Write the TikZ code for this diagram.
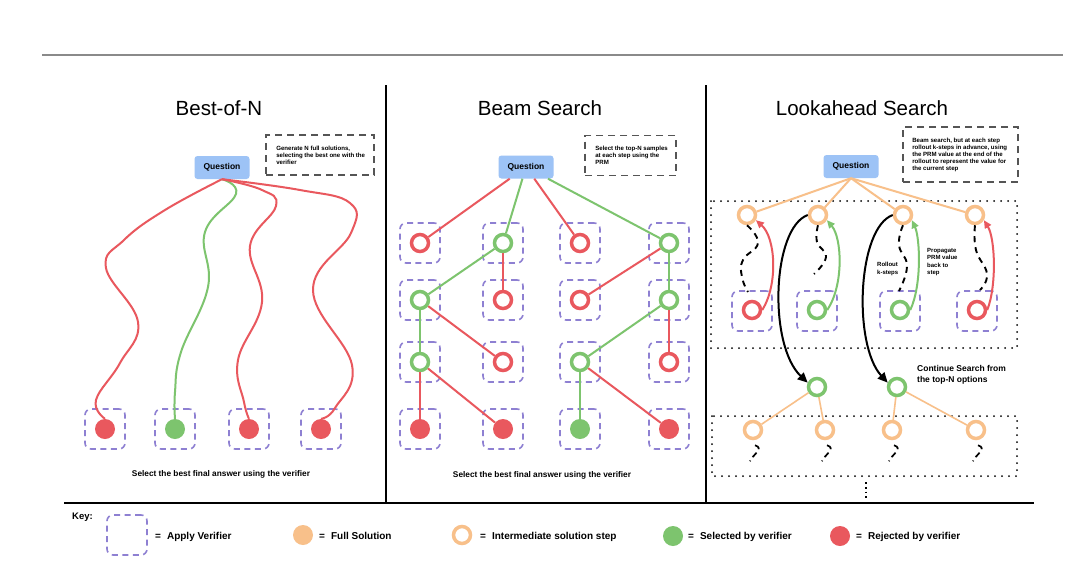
\documentclass[tikz,border=0pt]{standalone}
\usepackage{fontspec}
\setmainfont{Liberation Sans}
\usetikzlibrary{arrows.meta}
\definecolor{cred}{HTML}{E9585E}
\definecolor{cgreen}{HTML}{7DC46E}
\definecolor{corange}{HTML}{F8C08A}
\definecolor{cpurple}{HTML}{8E80D2}
\definecolor{cblue}{HTML}{9DC3F6}
\definecolor{cgray}{HTML}{555555}
\definecolor{lgray}{HTML}{8A8A8A}
\begin{document}
\begin{tikzpicture}[x=1pt,y=-1pt,
  question/.style={fill=cblue, rounded corners=3pt, minimum width=55pt, minimum height=23pt, inner sep=0pt, font=\fontsize{8.5}{10}\selectfont\bfseries},
  notebox/.style={draw=cgray, line width=1.8pt, dash pattern=on 7pt off 5pt, inner sep=0pt},
  notetext/.style={align=left, anchor=west, inner sep=0pt, font=\fontsize{6.1}{7}\selectfont\bfseries},
  title/.style={font=\fontsize{20.5}{24}\selectfont},
  caption/.style={font=\fontsize{8.3}{10}\selectfont\bfseries},
  vbox/.style={draw=cpurple, line width=1.6pt, dash pattern=on 6pt off 4.5pt, rounded corners=6pt, minimum size=40pt, inner sep=0pt},
  hol/.style={circle, draw=#1, line width=3.5pt, fill=white, minimum size=17pt, inner sep=0pt},
  ful/.style={circle, fill=#1, minimum size=20pt, inner sep=0pt},
  edge/.style={draw=#1, line width=2pt},
  oedge/.style={draw=corange, line width=2pt},
  rollout/.style={draw=black, line width=1.9pt, dash pattern=on 6pt off 5pt},
  prop/.style={draw=#1, line width=2pt, -{Triangle[length=8pt,width=7pt]}},
  jump/.style={draw=black, line width=2pt, -{Triangle[length=10pt,width=9pt]}},
  dotbox/.style={line width=2pt, dash pattern=on 0pt off 7pt, line cap=round},
  small/.style={align=left, anchor=north west, inner sep=0pt, font=\fontsize{6}{7.5}\selectfont\bfseries},
  legend/.style={anchor=base west, inner sep=0pt, font=\fontsize{10}{12}\selectfont\bfseries}
]
\useasboundingbox[fill=white] (0,0) rectangle (1080,566);

% frame lines
\draw[lgray, line width=2.5pt] (42,55) -- (1063,55);
\draw[black, line width=1.5pt] (386,85) -- (386,503);
\draw[black, line width=1.5pt] (706,85) -- (706,503);
\draw[black, line width=2.5pt] (64,503) -- (1034,503);

% ================= Best-of-N =================
\node[title] (t-bon) at (219,108) {Best-of-N};
\node[notebox, minimum width=108pt, minimum height=40pt] (n-bon) at (320,155) {};
\node[notetext] (n-bon-t) at ([xshift=11pt]n-bon.west) {Generate N full solutions,\\selecting the best one with the\\verifier};
\node[question] (qa) at (222,167.5) {Question};
\foreach \i/\x/\c in {1/105/cred, 2/175/cgreen, 3/249/cred, 4/321/cred}{
  \node[vbox] (va\i) at (\x,429) {};
  \node[ful=\c] (la\i) at (\x,429) {};
}
\draw[edge=cred] plot[smooth, tension=0.7] coordinates {(qa.south) (165,210) (124,240) (106,268) (138,322) (120,363) (96,400) (la1.north)};
\draw[edge=cgreen] plot[smooth, tension=0.7] coordinates {(qa.south) (236,194) (205,232) (208,287) (181,352) (175,392) (la2.north)};
\draw[edge=cred] plot[smooth, tension=0.7] coordinates {(qa.south) (262,190) (276,206) (250,246) (262,302) (238,360) (244,402) (la3.north)};
\draw[edge=cred] plot[smooth, tension=0.7] coordinates {(qa.south) (300,190) (350,203) (351,233) (313,290) (352,365) (335,408) (la4.north)};
\node[caption] (c-bon) at (221,474) {Select the best final answer using the verifier};

% ================= Beam Search =================
\node[title] (t-bs) at (540,108) {Beam Search};
\node[notebox, minimum width=91pt, minimum height=40pt] (n-bs) at (630.5,155.5) {};
\node[notetext] (n-bs-t) at ([xshift=11pt]n-bs.west) {Select the top-N samples\\at each step using the\\PRM};
\node[question] (qb) at (526,167) {Question};
\foreach \x [count=\j] in {420,503,580,669}{
  \foreach \y [count=\i] in {243,300,362,429}{
    \node[vbox] (vb\i\j) at (\x,\y) {};
  }
}
\foreach \j/\x/\c in {1/420/cred, 2/503/cgreen, 3/580/cred, 4/669/cgreen}{\node[hol=\c] (b1\j) at (\x,243) {};}
\foreach \j/\x/\c in {1/420/cgreen, 2/503/cred, 3/580/cred, 4/669/cgreen}{\node[hol=\c] (b2\j) at (\x,300) {};}
\foreach \j/\x/\c in {1/420/cgreen, 2/503/cred, 3/580/cgreen, 4/669/cred}{\node[hol=\c] (b3\j) at (\x,362) {};}
\foreach \j/\x/\c in {1/420/cred, 2/503/cred, 3/580/cgreen, 4/669/cred}{\node[ful=\c] (b4\j) at (\x,429) {};}
\foreach \a/\b/\c in {qb/b11/cred, qb/b12/cgreen, qb/b13/cred, qb/b14/cgreen,
  b12/b21/cgreen, b12/b22/cred, b14/b23/cred, b14/b24/cgreen,
  b21/b31/cgreen, b21/b32/cred, b24/b33/cgreen, b24/b34/cred,
  b31/b41/cred, b31/b42/cred, b33/b43/cgreen, b33/b44/cred}{
  \draw[edge=\c] (\a) -- (\b);
}
\node[caption] (c-bs) at (542,475) {Select the best final answer using the verifier};

% ================= Lookahead Search =================
\node[title] (t-la) at (862,108) {Lookahead Search};
\node[notebox, minimum width=115pt, minimum height=55pt] (n-la) at (960.5,154.5) {};
\node[notetext] (n-la-t) at ([xshift=10pt]n-la.west) {Beam search, but at each step\\rollout k-steps in advance, using\\the PRM value at the end of the\\rollout to represent the value for\\the current step};
\node[question] (qc) at (851,166.5) {Question};

\draw[dotbox] (711,201) rectangle (1017,348);
\draw[dotbox] (712,416) rectangle (1017,476);

\foreach \i/\x in {1/747, 2/818, 3/903, 4/975}{
  \node[hol=corange] (tl\i) at (\x,215) {};
  \draw[oedge] (qc.south) -- (tl\i);
}
\foreach \i/\x/\c in {1/752/cred, 2/817/cgreen, 3/900/cgreen, 4/977/cred}{
  \node[vbox] (vl\i) at (\x,311) {};
  \node[hol=\c] (bl\i) at (\x,310) {};
}
% rollouts
\coordinate (re1) at (748,292);
\coordinate (re2) at (814,274);
\coordinate (re3) at (899,291);
\coordinate (re4) at (980,290);
\draw[rollout] plot[smooth, tension=0.8] coordinates {(tl1.south) (758,243) (743,260) (742,277) (re1)};
\draw[rollout] plot[smooth, tension=0.8] coordinates {(tl2.south) (817,242) (826,257) (re2)};
\draw[rollout] plot[smooth, tension=0.8] coordinates {(tl3.south) (899,245) (907,266) (re3)};
\draw[rollout] plot[smooth, tension=0.8] coordinates {(tl4.south) (976,250) (987,274) (re4)};
% propagate
\draw[prop=cred] (bl1.east) .. controls (778,285) and (776,238) .. (tl1.-30);
\draw[prop=cgreen] (bl2.east) .. controls (844,285) and (842,238) .. (tl2.-30);
\draw[prop=cgreen] (bl3.east) .. controls (922,285) and (920,238) .. (tl3.-30);
\draw[prop=cred] (bl4.east) .. controls (997,285) and (995,238) .. (tl4.-30);

\node[small] (rl) at (877,262) {Rollout\\k-steps};
\node[small] (pl) at (927,248) {Propagate\\PRM value\\back to\\step};

% continue
\node[hol=cgreen] (g1) at (817,387) {};
\node[hol=cgreen] (g2) at (897,387) {};
\draw[jump] (tl2.west) .. controls (772,228) and (768,345) .. (g1.155);
\draw[jump] (tl3.west) .. controls (857,228) and (853,345) .. (g2.155);
\node[small, font=\fontsize{8.5}{11}\selectfont\bfseries] (cs) at (917,365) {Continue Search from\\the top-N options};

\foreach \i/\x in {1/753, 2/825, 3/892, 4/976}{
  \node[hol=corange] (cl\i) at (\x,430) {};
  \draw[rollout, line width=1.7pt, dash pattern=on 6pt off 4pt] ([shift={(2,5)}]cl\i.south) .. controls +(10,3) and +(2,-6) .. +(-5,16);
}
\draw[oedge, line width=1.6pt] (g1) -- (cl1);
\draw[oedge, line width=1.6pt] (g1) -- (cl2);
\draw[oedge, line width=1.6pt] (g2) -- (cl3);
\draw[oedge, line width=1.6pt] (g2) -- (cl4);

\draw[line width=1.8pt, dash pattern=on 1.8pt off 3pt] (866,482) -- (866,498);

% ================= Key =================
\node[anchor=west, inner sep=0pt, font=\fontsize{9.5}{11}\selectfont\bfseries] (key) at (72,517) {Key:};
\node[vbox] (kv) at (127,535) {};
\node[legend] (kvt) at (155,539.5) {=\hspace{6pt}Apply Verifier};
\node[ful=corange] (kf) at (303,535) {};
\node[legend] (kft) at (319,539.5) {=\hspace{6pt}Full Solution};
\node[hol=corange] (ki) at (462,535) {};
\node[legend] (kit) at (480,539.5) {=\hspace{6pt}Intermediate solution step};
\node[ful=cgreen] (ks) at (673,536) {};
\node[legend] (kst) at (688,539.5) {=\hspace{6pt}Selected by verifier};
\node[ful=cred] (kr) at (840,536) {};
\node[legend] (krt) at (856,539.5) {=\hspace{6pt}Rejected by verifier};
\end{tikzpicture}
\end{document}
